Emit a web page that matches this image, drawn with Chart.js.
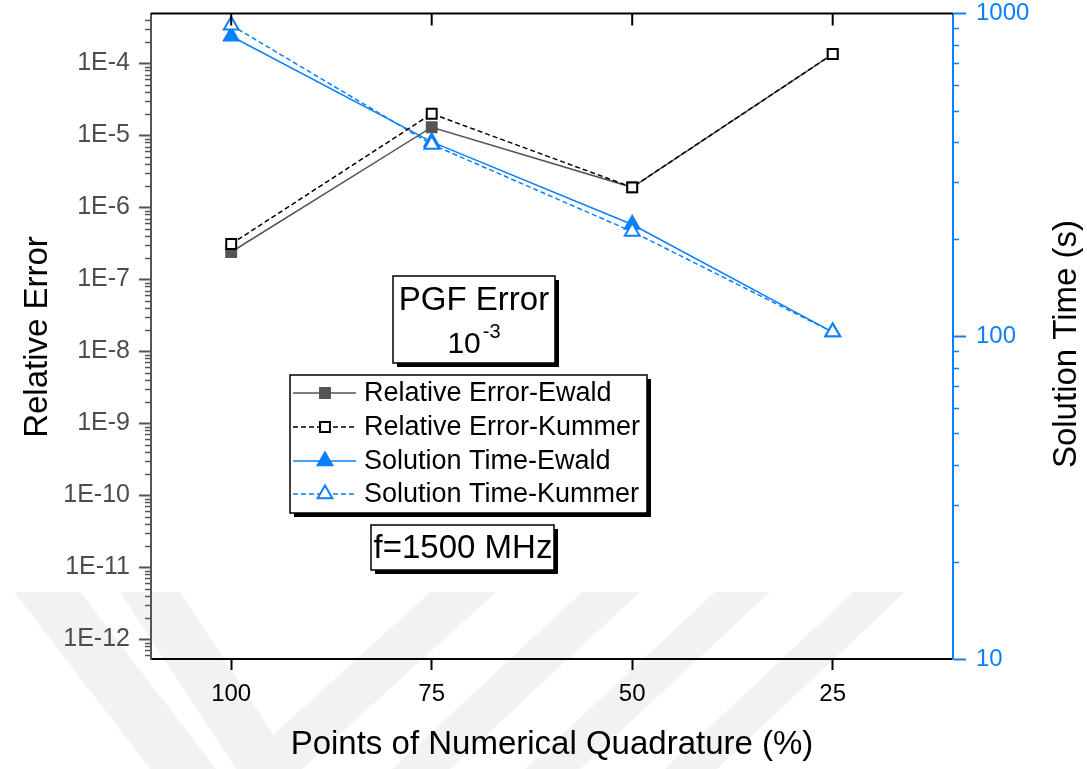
<!DOCTYPE html>
<html>
<head>
<meta charset="utf-8">
<script src="https://cdn.jsdelivr.net/npm/chart.js@4.4.0/dist/chart.umd.min.js"></script>
<style>
  html, body { margin: 0; padding: 0; background: #fff; }
</style>
</head>
<body>
<canvas id="quadratureChart" width="1087" height="769"></canvas>
<script>
// values
var quadraturePoints = [100, 75, 50, 25];
var errorEwald = [2.4e-7, 1.3e-5, 1.9e-6, 1.35e-4];
var errorKummer = [3.1e-7, 2.0e-5, 1.9e-6, 1.35e-4];
var timeEwald = [850, 400, 222, 103];
var timeKummer = [920, 393, 211, 103];

var errorTicks = [1e-12, 1e-11, 1e-10, 1e-9, 1e-8, 1e-7, 1e-6, 1e-5, 1e-4];
var errorTickLabels = ['1E-12', '1E-11', '1E-10', '1E-9', '1E-8', '1E-7', '1E-6', '1E-5', '1E-4'];
var timeTicks = [10, 100, 1000];
var timeTickLabels = ['10', '100', '1000'];

var FONT = "'Liberation Sans', Arial, sans-serif";
var BLUE = '#0a80fa';
var GRAY = '#555555';

function toPoints(values) {
    return quadraturePoints.map(function(x, i) {
        return { x: x, y: values[i] };
    });
}

function drawMarker(ctx, style, x, y, r, fill, stroke) {
    ctx.save();
    ctx.fillStyle = fill;
    ctx.strokeStyle = stroke;
    ctx.lineWidth = 2;
    ctx.setLineDash([]);
    ctx.beginPath();
    if (style === 'rect') {
        var s = r * Math.SQRT1_2;
        ctx.rect(x - s, y - s, 2 * s, 2 * s);
    } else {
        ctx.moveTo(x, y - r);
        ctx.lineTo(x + r * Math.sin(Math.PI * 2 / 3), y + r * 0.5);
        ctx.lineTo(x - r * Math.sin(Math.PI * 2 / 3), y + r * 0.5);
        ctx.closePath();
    }
    ctx.fill();
    ctx.stroke();
    ctx.restore();
}

function shadowBox(ctx, x, y, w, h) {
    ctx.fillStyle = '#000';
    ctx.fillRect(x + 4, y + 4, w, h);
    ctx.fillStyle = '#fff';
    ctx.fillRect(x, y, w, h);
    ctx.strokeStyle = '#000';
    ctx.lineWidth = 1.5;
    ctx.strokeRect(x, y, w, h);
}

function noEdgePadding(scale) {
    scale.paddingTop = 0;
    scale.paddingBottom = 0;
    scale.paddingLeft = 0;
    scale.paddingRight = 0;
}

var decorPlugin = {
    id: 'decor',
    beforeDraw: function(chart) {
        // faint watermark bands at the bottom, filled as one path
        var ctx = chart.ctx;
        var bands = [[14, 80, 150, 216], [120, 180, 236, 296], [430, 496, 236, 302],
                     [582, 640, 392, 450], [715, 770, 525, 580], [853, 905, 665, 717]];
        ctx.save();
        ctx.fillStyle = 'rgba(0,0,0,0.05)';
        ctx.beginPath();
        bands.forEach(function(b) {
            ctx.moveTo(b[0], 592);
            ctx.lineTo(b[1], 592);
            ctx.lineTo(b[3], 769);
            ctx.lineTo(b[2], 769);
            ctx.closePath();
        });
        ctx.fill('nonzero');
        ctx.restore();
    },
    afterDraw: function(chart) {
        var ctx = chart.ctx;
        var area = chart.chartArea;
        var xs = chart.scales.x;
        var yErr = chart.scales.yErr;
        var yTime = chart.scales.yTime;
        ctx.save();

        // top frame with inward ticks
        ctx.strokeStyle = '#000';
        ctx.lineWidth = 2;
        ctx.beginPath();
        ctx.moveTo(area.left, area.top);
        ctx.lineTo(area.right, area.top);
        quadraturePoints.forEach(function(v) {
            var px = xs.getPixelForValue(v);
            ctx.moveTo(px, area.top);
            ctx.lineTo(px, area.top + 12);
        });
        ctx.stroke();

        // minor log ticks
        ctx.lineWidth = 1.5;
        ctx.strokeStyle = GRAY;
        ctx.beginPath();
        for (var n = -13; n <= -3; n++) {
            for (var k = 2; k <= 9; k++) {
                var v = k * Math.pow(10, n);
                if (v < yErr.min || v > yErr.max) continue;
                var py = Math.round(yErr.getPixelForValue(v)) + 0.5;
                ctx.moveTo(area.left - 6, py);
                ctx.lineTo(area.left, py);
            }
        }
        ctx.stroke();
        ctx.strokeStyle = BLUE;
        ctx.beginPath();
        for (var m = 1; m <= 2; m++) {
            for (var j = 2; j <= 9; j++) {
                var t = j * Math.pow(10, m);
                var ty = Math.round(yTime.getPixelForValue(t)) + 0.5;
                ctx.moveTo(area.right, ty);
                ctx.lineTo(area.right + 6, ty);
            }
        }
        ctx.stroke();

        // axis titles
        ctx.fillStyle = '#000';
        ctx.font = '33px ' + FONT;
        ctx.textAlign = 'center';
        ctx.textBaseline = 'alphabetic';
        ctx.fillText('Points of Numerical Quadrature (%)', (area.left + area.right) / 2, 754);
        ctx.save();
        ctx.translate(47, 337);
        ctx.rotate(-Math.PI / 2);
        ctx.fillText('Relative Error', 0, 0);
        ctx.restore();
        ctx.save();
        ctx.translate(1076, 344);
        ctx.rotate(-Math.PI / 2);
        ctx.fillText('Solution Time (s)', 0, 0);
        ctx.restore();

        // PGF error box
        shadowBox(ctx, 393, 276, 162, 87);
        ctx.fillStyle = '#000';
        ctx.font = '33px ' + FONT;
        ctx.textAlign = 'center';
        ctx.fillText('PGF Error', 474, 310);
        ctx.font = '30px ' + FONT;
        var w10 = ctx.measureText('10').width;
        ctx.font = '20px ' + FONT;
        var wExp = ctx.measureText('-3').width;
        var startX = 474 - (w10 + wExp + 2) / 2;
        ctx.textAlign = 'left';
        ctx.font = '30px ' + FONT;
        ctx.fillText('10', startX, 353);
        ctx.font = '20px ' + FONT;
        ctx.fillText('-3', startX + w10 + 2, 338);

        // legend box
        shadowBox(ctx, 290, 375, 357, 138);
        var rows = [393, 427, 461, 494];
        ctx.font = '27px ' + FONT;
        ctx.textBaseline = 'middle';
        chart.data.datasets.forEach(function(ds, i) {
            var y = rows[i];
            ctx.save();
            ctx.strokeStyle = ds.borderColor;
            ctx.lineWidth = 1.5;
            ctx.setLineDash(ds.borderDash || []);
            ctx.beginPath();
            ctx.moveTo(293, y);
            ctx.lineTo(356, y);
            ctx.stroke();
            ctx.restore();
            drawMarker(ctx, ds.pointStyle, 325, y, ds.pointRadius, ds.pointBackgroundColor, ds.pointBorderColor);
            ctx.fillStyle = '#000';
            ctx.fillText(ds.label, 364, y + 1);
        });

        // frequency box
        shadowBox(ctx, 371, 525, 183, 45);
        ctx.fillStyle = '#000';
        ctx.font = '33px ' + FONT;
        ctx.textAlign = 'center';
        ctx.textBaseline = 'middle';
        ctx.fillText('f=1500 MHz', 463, 549);

        ctx.restore();
    }
};

var ctx = document.getElementById('quadratureChart').getContext('2d');

var quadratureChart = new Chart(ctx, {
    type: 'line',
    data: {
        datasets: [{
            label: 'Relative Error-Ewald',
            data: toPoints(errorEwald),
            yAxisID: 'yErr',
            borderColor: GRAY,
            borderWidth: 1.5,
            pointStyle: 'rect',
            pointRadius: 7,
            pointBackgroundColor: GRAY,
            pointBorderColor: GRAY,
            pointBorderWidth: 2,
            order: 1
        }, {
            label: 'Relative Error-Kummer',
            data: toPoints(errorKummer),
            yAxisID: 'yErr',
            borderColor: '#000000',
            borderWidth: 1.5,
            borderDash: [5, 3],
            pointStyle: 'rect',
            pointRadius: 7,
            pointBackgroundColor: '#ffffff',
            pointBorderColor: '#000000',
            pointBorderWidth: 2,
            order: 0
        }, {
            label: 'Solution Time-Ewald',
            data: toPoints(timeEwald),
            yAxisID: 'yTime',
            borderColor: BLUE,
            borderWidth: 1.5,
            pointStyle: 'triangle',
            pointRadius: 8.5,
            pointBackgroundColor: BLUE,
            pointBorderColor: BLUE,
            pointBorderWidth: 2,
            order: 1
        }, {
            label: 'Solution Time-Kummer',
            data: toPoints(timeKummer),
            yAxisID: 'yTime',
            borderColor: BLUE,
            borderWidth: 1.5,
            borderDash: [5, 3],
            pointStyle: 'triangle',
            pointRadius: 8.5,
            pointBackgroundColor: '#ffffff',
            pointBorderColor: BLUE,
            pointBorderWidth: 2,
            order: 0
        }]
    },
    options: {
        responsive: false,
        animation: false,
        events: [],
        layout: { padding: { top: 13.5, left: 0, right: 0, bottom: 0 } },
        elements: { line: { tension: 0 } },
        plugins: {
            legend: { display: false },
            tooltip: { enabled: false }
        },
        scales: {
            x: {
                type: 'linear',
                position: 'bottom',
                reverse: true,
                min: 10,
                max: 110,
                afterBuildTicks: function(scale) {
                    scale.ticks = quadraturePoints.map(function(v) { return { value: v }; });
                },
                afterFit: function(scale) { scale.height = 110; noEdgePadding(scale); },
                ticks: {
                    color: '#000',
                    font: { family: FONT, size: 24 },
                    padding: 10,
                    autoSkip: false,
                    maxRotation: 0
                },
                grid: { drawOnChartArea: false, tickLength: 11, tickColor: '#000', tickWidth: 2 },
                border: { color: '#000', width: 2 }
            },
            yErr: {
                type: 'logarithmic',
                position: 'left',
                min: Math.pow(10, -12.275),
                max: Math.pow(10, -3.306),
                afterBuildTicks: function(scale) {
                    scale.ticks = errorTicks.map(function(v) { return { value: v, major: true }; });
                },
                afterFit: function(scale) { scale.width = 151; noEdgePadding(scale); },
                ticks: {
                    callback: function(value, index) { return errorTickLabels[index]; },
                    color: '#4d4d4d',
                    font: { family: FONT, size: 25 },
                    padding: 9,
                    autoSkip: false
                },
                grid: { drawOnChartArea: false, tickLength: 12, tickColor: GRAY, tickWidth: 2 },
                border: { color: GRAY, width: 2 }
            },
            yTime: {
                type: 'logarithmic',
                position: 'right',
                min: 10,
                max: 1000,
                afterBuildTicks: function(scale) {
                    scale.ticks = timeTicks.map(function(v) { return { value: v, major: true }; });
                },
                afterFit: function(scale) { scale.width = 134; noEdgePadding(scale); },
                ticks: {
                    callback: function(value, index) { return timeTickLabels[index]; },
                    color: BLUE,
                    font: { family: FONT, size: 24 },
                    padding: 10,
                    autoSkip: false
                },
                grid: { drawOnChartArea: false, tickLength: 13, tickColor: BLUE, tickWidth: 2 },
                border: { color: BLUE, width: 2 }
            }
        }
    },
    plugins: [decorPlugin]
});
</script>
</body>
</html>
